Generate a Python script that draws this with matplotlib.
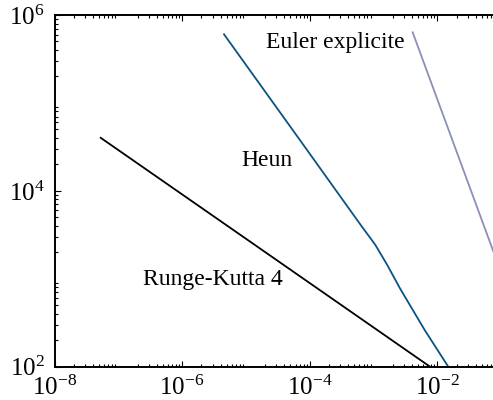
import matplotlib
matplotlib.use("Agg")
import matplotlib.pyplot as plt
from matplotlib.ticker import LogLocator, NullFormatter

plt.rcParams['font.family'] = ['Liberation Serif', 'DejaVu Serif']
plt.rcParams['mathtext.fontset'] = 'custom'
plt.rcParams['mathtext.rm'] = 'Liberation Serif'
plt.rcParams['mathtext.it'] = 'Liberation Serif:italic'
plt.rcParams['mathtext.bf'] = 'Liberation Serif:bold'

# data (error, cost)
rk4_x = [5.30e-8, 1.16e-5, 7.69e-3]
rk4_y = [4.01e4, 2.65e3, 1.0e2]

heun_x = [4.54e-6, 7.05e-5, 4.29e-4, 6.61e-4, 1.06e-3, 1.63e-3, 2.60e-3, 6.41e-3, 1.486e-2]
heun_y = [6.03e5, 3.77e4, 6.04e3, 3.90e3, 2.45e3, 1.45e3, 7.78e2, 2.58e2, 1.0e2]

euler_x = [4.11e-3, 7.13e-2, 1.0e-1]
euler_y = [6.35e5, 2.30e3, 1.17e3]

labels = ["Euler explicite", "Heun", "Runge-Kutta 4"]
colors = ["#8a90b5", "#0b5383", "black"]

x_ticks = [1e-8, 1e-6, 1e-4, 1e-2]
y_ticks = [1e2, 1e4, 1e6]

fig = plt.figure(figsize=(4.93, 4.0), dpi=100)
ax = fig.add_axes([54.5/493, 33.3/400, 438.5/493, 351.7/400])
ax.set_xscale('log')
ax.set_yscale('log')
ax.set_xlim(1e-8, 10**(-8 + 438.5/63.8))
ax.set_ylim(1e2, 1e6)

ax.plot(euler_x, euler_y, color=colors[0], lw=1.3)
ax.plot(heun_x, heun_y, color=colors[1], lw=1.3)
ax.plot(rk4_x, rk4_y, color=colors[2], lw=1.3)

ax.text(0.6415, 0.9053, labels[0], transform=ax.transAxes, ha='center', va='baseline', fontsize=17)
ax.text(0.4835, 0.5715, labels[1], transform=ax.transAxes, ha='center', va='baseline', fontsize=17)
ax.text(0.3603, 0.2323, labels[2], transform=ax.transAxes, ha='center', va='baseline', fontsize=17)

ax.spines['right'].set_visible(False)
for s in ['left', 'bottom', 'top']:
    ax.spines[s].set_linewidth(1.4)

ax.xaxis.set_minor_locator(LogLocator(base=10, subs=range(2, 10), numticks=100))
ax.xaxis.set_minor_formatter(NullFormatter())
ax.set_xticks(x_ticks)
ax.yaxis.set_minor_locator(LogLocator(base=10, subs=range(2, 10), numticks=100))
ax.yaxis.set_minor_formatter(NullFormatter())
ax.set_yticks(y_ticks)

ax.tick_params(which='both', direction='in', top=True, bottom=True, left=True, right=False,
               labelsize=18, width=0.8)
ax.tick_params(which='major', length=4)
ax.tick_params(which='minor', length=2)
ax.tick_params(axis='x', pad=6.5)
ax.tick_params(axis='y', pad=7)

fig.savefig("out.png", dpi=100)
